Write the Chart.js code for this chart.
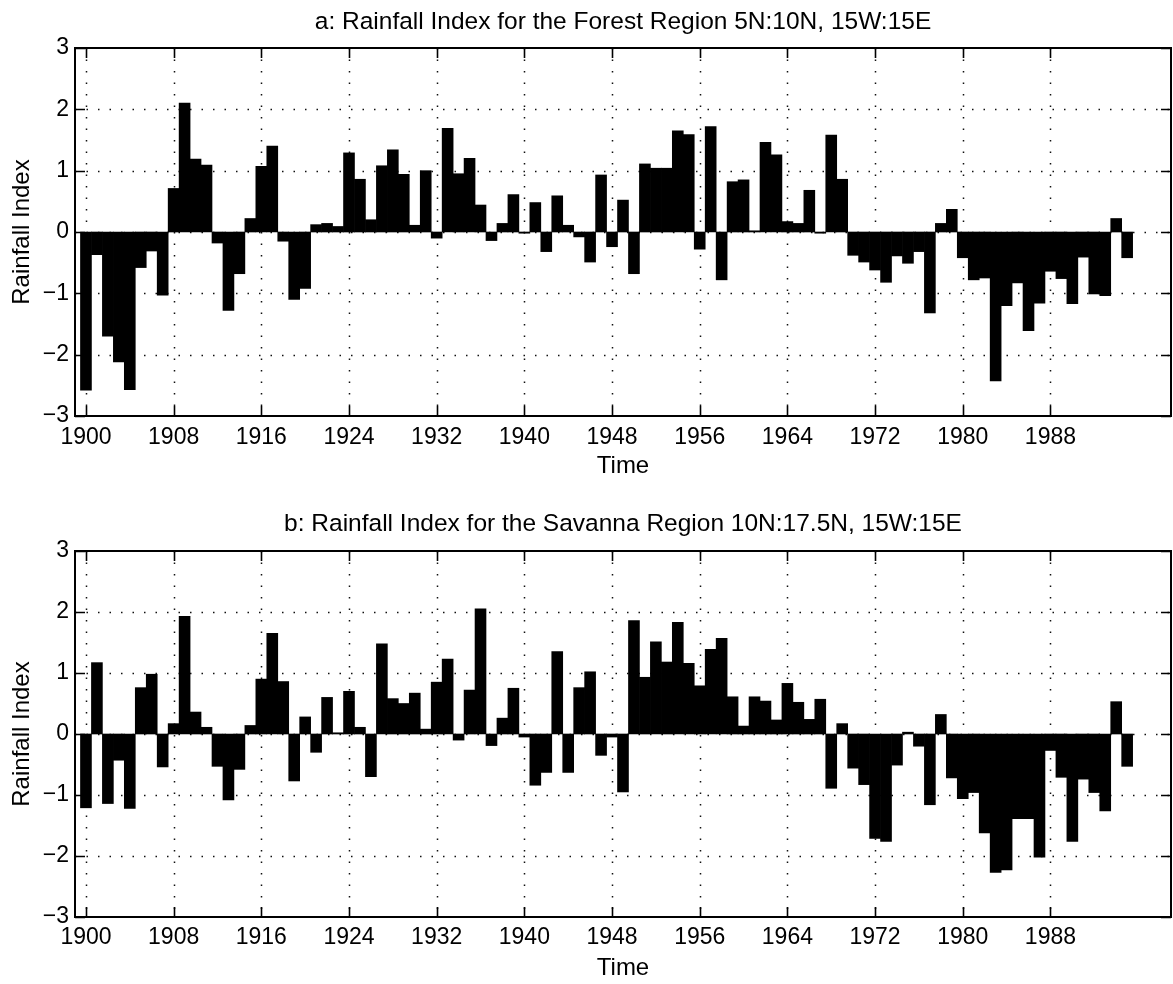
<!DOCTYPE html>
<html>
<head>
<meta charset="utf-8">
<script src="https://cdn.jsdelivr.net/npm/chart.js@4/dist/chart.umd.min.js"></script>
<style>
  html, body { margin: 0; padding: 0; background: #fff; }
  canvas { display: block; }
</style>
</head>
<body>
<canvas id="forest" width="1173" height="492"></canvas>
<canvas id="savanna" width="1173" height="492"></canvas>
<script>
// Annual rainfall index, 1900-1995
const years = [];
for (let yr = 1900; yr <= 1995; yr++) years.push(yr);

const forestIndex = [
  -2.58, -0.37, -1.70, -2.12, -2.57, -0.58, -0.31, -1.03, 0.71, 2.10,
   1.19,  1.09, -0.18, -1.28, -0.68,  0.22,  1.07,  1.40, -0.15, -1.10,
  -0.92,  0.12,  0.14,  0.09,  1.29,  0.86,  0.20,  1.08,  1.34,  0.94,
   0.11,  1.00, -0.10,  1.69,  0.95,  1.20,  0.44, -0.14,  0.14,  0.61,
  -0.02,  0.48, -0.32,  0.59,  0.11, -0.08, -0.49,  0.93, -0.24,  0.52,
  -0.68,  1.11,  1.04,  1.04,  1.65,  1.59, -0.28,  1.72, -0.78,  0.82,
   0.85,  0.02,  1.46,  1.26,  0.17,  0.14,  0.68, -0.02,  1.58,  0.86,
  -0.38, -0.49, -0.62, -0.82, -0.39, -0.51, -0.32, -1.32,  0.14,  0.37,
  -0.42, -0.78, -0.75, -2.43, -1.20, -0.83, -1.61, -1.16, -0.64, -0.76,
  -1.17, -0.41, -1.01, -1.04,  0.22, -0.42
];

const savannaIndex = [
  -1.21,  1.17, -1.14, -0.43, -1.22,  0.76,  0.98, -0.54,  0.17,  1.93,
   0.36,  0.11, -0.53, -1.08, -0.58,  0.14,  0.90,  1.65,  0.86, -0.77,
   0.28, -0.30,  0.60,  0.02,  0.70,  0.11, -0.70,  1.48,  0.58,  0.50,
   0.67,  0.08,  0.85,  1.23, -0.10,  0.72,  2.05, -0.19,  0.26,  0.75,
  -0.05, -0.84, -0.63,  1.35, -0.63,  0.76,  1.02, -0.35, -0.05, -0.95,
   1.86,  0.93,  1.51,  1.18,  1.83,  1.16,  0.79,  1.39,  1.57,  0.61,
   0.13,  0.61,  0.54,  0.23,  0.83,  0.52,  0.24,  0.57, -0.89,  0.17,
  -0.56, -0.83, -1.71, -1.76, -0.51,  0.03, -0.20, -1.16,  0.32, -0.72,
  -1.06, -0.96, -1.62, -2.27, -2.23, -1.39, -1.39, -2.02, -0.27, -0.71,
  -1.76, -0.74, -0.96, -1.26,  0.53, -0.53
];

const xTicks = [1900, 1908, 1916, 1924, 1932, 1940, 1948, 1956, 1964, 1972, 1980, 1988];
const yTicks = [-3, -2, -1, 0, 1, 2, 3];
const yTickLabels = ['\u22123', '\u22122', '\u22121', '0', '1', '2', '3'];

const forestTitle = 'a: Rainfall Index for the Forest Region 5N:10N, 15W:15E';
const savannaTitle = 'b: Rainfall Index for the Savanna Region 10N:17.5N, 15W:15E';

const FONT = '"Liberation Sans", Arial, Helvetica, sans-serif';

// Panel heading centred over the plot box
const headingPlugin = {
  id: 'heading',
  afterDraw(chart, args, opts) {
    const { ctx, chartArea: a } = chart;
    ctx.save();
    ctx.fillStyle = '#000';
    ctx.font = `24.5px ${FONT}`;
    ctx.textAlign = 'center';
    ctx.textBaseline = 'middle';
    ctx.fillText(opts.text, (a.left + a.right) / 2, opts.y);
    ctx.restore();
  }
};

// Dotted grid under the bars, boxed frame with inward ticks on top
const framePlugin = {
  id: 'frame',
  beforeDatasetsDraw(chart) {
    const { ctx, chartArea: a, scales: { x, y } } = chart;
    ctx.save();
    ctx.strokeStyle = '#111';
    ctx.lineWidth = 1.5;
    ctx.setLineDash([1.5, 10]);
    xTicks.forEach(v => {
      const px = Math.round(x.getPixelForValue(v)) + 0.5;
      ctx.beginPath(); ctx.moveTo(px, a.top); ctx.lineTo(px, a.bottom); ctx.stroke();
    });
    yTicks.slice(1, -1).forEach(v => {
      const py = Math.round(y.getPixelForValue(v)) + 0.5;
      ctx.beginPath(); ctx.moveTo(a.left, py); ctx.lineTo(a.right, py); ctx.stroke();
    });
    ctx.restore();
  },
  afterDatasetsDraw(chart) {
    const { ctx, chartArea: a, scales: { x, y } } = chart;
    const len = 10;
    ctx.save();
    ctx.strokeStyle = '#000';
    ctx.lineWidth = 1.6;
    ctx.setLineDash([]);
    xTicks.forEach(v => {
      const px = Math.round(x.getPixelForValue(v)) + 0.5;
      ctx.beginPath();
      ctx.moveTo(px, a.bottom); ctx.lineTo(px, a.bottom - len);
      ctx.moveTo(px, a.top); ctx.lineTo(px, a.top + len);
      ctx.stroke();
    });
    yTicks.forEach(v => {
      const py = Math.round(y.getPixelForValue(v)) + 0.5;
      ctx.beginPath();
      ctx.moveTo(a.left, py); ctx.lineTo(a.left + len, py);
      ctx.moveTo(a.right, py); ctx.lineTo(a.right - len, py);
      ctx.stroke();
    });
    ctx.lineWidth = 2;
    ctx.strokeRect(a.left, a.top, a.right - a.left, a.bottom - a.top);
    ctx.restore();
  }
};

function makePanel(canvasId, titleText, values, geom) {
  return new Chart(document.getElementById(canvasId), {
    type: 'bar',
    data: {
      datasets: [{
        data: years.map((yr, i) => ({ x: yr, y: values[i] })),
        backgroundColor: '#000',
        borderWidth: 0,
        barPercentage: 1,
        categoryPercentage: 1
      }]
    },
    options: {
      responsive: false,
      animation: false,
      devicePixelRatio: 1,
      layout: { padding: { left: 0, right: 2, top: geom.top, bottom: 0 } },
      plugins: {
        legend: { display: false },
        tooltip: { enabled: false },
        title: { display: false },
        heading: { text: titleText, y: geom.titleY }
      },
      scales: {
        x: {
          type: 'linear',
          min: 1899,
          max: 1999,
          offset: false,
          grid: { display: false, drawTicks: false },
          border: { display: false },
          afterBuildTicks: s => { s.ticks = xTicks.map(v => ({ value: v })); },
          afterFit: s => { s.height = geom.xHeight; },
          ticks: {
            color: '#000',
            padding: geom.xTickPad,
            maxRotation: 0,
            autoSkip: false,
            font: { family: FONT, size: 23 },
            callback: v => String(v)
          },
          title: {
            display: true,
            text: 'Time',
            color: '#000',
            font: { family: FONT, size: 24 },
            padding: { top: 0, bottom: geom.timePad }
          }
        },
        y: {
          min: -3,
          max: 3,
          grid: { display: false, drawTicks: false },
          border: { display: false },
          afterBuildTicks: s => { s.ticks = yTicks.map(v => ({ value: v })); },
          afterFit: s => { s.width = 75; },
          ticks: {
            color: '#000',
            padding: 6,
            autoSkip: false,
            font: { family: FONT, size: 23 },
            callback: v => yTickLabels[yTicks.indexOf(v)]
          },
          title: {
            display: true,
            text: 'Rainfall Index',
            color: '#000',
            font: { family: FONT, size: 24 },
            padding: { top: 7.6, bottom: 0 }
          }
        }
      }
    },
    plugins: [framePlugin, headingPlugin]
  });
}

makePanel('forest', forestTitle, forestIndex,
  { top: 48, titleY: 22.4, xHeight: 76, xTickPad: 8.2, timePad: 11.6 });
makePanel('savanna', savannaTitle, savannaIndex,
  { top: 59, titleY: 32.4, xHeight: 67, xTickPad: 7.2, timePad: 1.6 });
</script>
</body>
</html>
